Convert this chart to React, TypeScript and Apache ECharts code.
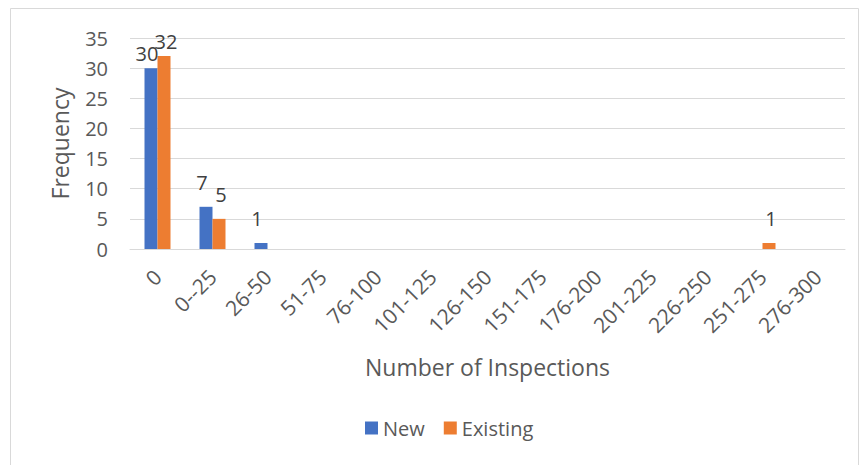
import React, { useEffect, useRef } from "react";
import * as echarts from "echarts";

const categories = ["0", "0--25", "26-50", "51-75", "76-100", "101-125", "126-150", "151-175", "176-200", "201-225", "226-250", "251-275", "276-300"];
const newValues = [30, 7, 1, 0, 0, 0, 0, 0, 0, 0, 0, 0, 0];
const existingValues = [32, 5, 0, 0, 0, 0, 0, 0, 0, 0, 0, 1, 0];

const FONT = "'Open Sans', 'Noto Sans', sans-serif";

export default function App() {
  const ref = useRef<HTMLDivElement>(null);
  useEffect(() => {
    if (!ref.current) return;
    const chart = echarts.init(ref.current, null, { renderer: "svg" });
    const makeLabel = (dx: number) => ({
      show: true,
      position: "top" as const,
      color: "#404040",
      fontSize: 20,
      fontFamily: FONT,
      distance: 14,
      offset: [dx, 0],
      formatter: (p: any) => (p.value === 0 ? "" : String(p.value)),
    });
    const toData = (vals: number[]) =>
      vals.map((v) => (v > 25 ? { value: v, label: { distance: 5 } } : v));
    chart.setOption({
      animation: false,
      backgroundColor: "#ffffff",
      textStyle: { fontFamily: FONT },
      graphic: [
        {
          type: "rect",
          shape: { x: 10.5, y: 8.5, width: 848, height: 470 },
          style: { fill: "none", stroke: "#d9d9d9", lineWidth: 1 },
          silent: true,
        },
      ],
      grid: { left: 130, right: 20, top: 38, bottom: 216, containLabel: false },
      legend: {
        bottom: 22,
        left: 360,
        itemWidth: 13,
        itemHeight: 13,
        itemGap: 19,
        icon: "rect",
        textStyle: { color: "#595959", fontSize: 20, fontFamily: FONT },
        data: ["New", "Existing"],
      },
      xAxis: {
        type: "category",
        data: categories,
        name: "Number of Inspections",
        nameLocation: "middle",
        nameGap: 106,
        nameTextStyle: { color: "#595959", fontSize: 23, fontFamily: FONT },
        axisLine: { show: true, lineStyle: { color: "#d9d9d9" } },
        axisTick: { show: false },
        axisLabel: {
          rotate: 45,
          interval: 0,
          color: "#595959",
          fontSize: 21,
          fontFamily: FONT,
          margin: 24,
        },
      },
      yAxis: {
        type: "value",
        min: 0,
        max: 35,
        interval: 5,
        name: "Frequency",
        nameLocation: "middle",
        nameGap: 59,
        nameTextStyle: { color: "#595959", fontSize: 23, fontFamily: FONT },
        axisLine: { show: false },
        axisTick: { show: false },
        splitLine: { lineStyle: { color: "#d9d9d9" } },
        axisLabel: { color: "#595959", fontSize: 20, fontFamily: FONT, margin: 22 },
      },
      series: [
        {
          name: "New",
          type: "bar",
          data: toData(newValues),
          barWidth: 13,
          barGap: "0%",
          itemStyle: { color: "#4472c4" },
          label: makeLabel(-4),
        },
        {
          name: "Existing",
          type: "bar",
          data: toData(existingValues),
          barWidth: 13,
          barGap: "0%",
          itemStyle: { color: "#ed7d31" },
          label: makeLabel(2),
        },
      ],
    });
    return () => chart.dispose();
  }, []);
  return (
    <div
      ref={ref}
      style={{ position: "fixed", left: 0, top: 0, width: 865, height: 465 }}
    />
  );
}
